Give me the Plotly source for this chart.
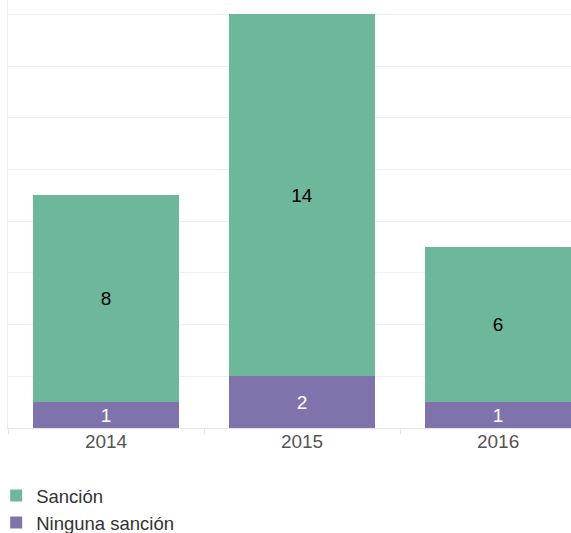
import plotly.graph_objects as go

years = ["2014", "2015", "2016"]
ninguna = [1, 2, 1]
sancion = [8, 14, 6]

green = "#6db89b"
purple = "#8073ab"
font_family = "Arial, 'Liberation Sans', sans-serif"

fig = go.Figure()
fig.add_trace(go.Bar(
    x=years, y=ninguna, name="Ninguna sanción",
    marker=dict(color=purple, line=dict(width=0)),
    text=ninguna, textposition="inside", insidetextanchor="middle", textangle=0,
    textfont=dict(color="white", size=19, family=font_family),
    constraintext="none",
))
fig.add_trace(go.Bar(
    x=years, y=sancion, name="Sanción",
    marker=dict(color=green, line=dict(width=0)),
    text=sancion, textposition="inside", insidetextanchor="middle", textangle=0,
    textfont=dict(color="black", size=19, family=font_family),
    constraintext="none",
))

fig.update_layout(
    width=571, height=533,
    barmode="stack", bargap=0.255,
    margin=dict(l=8, r=0, t=0, b=105, autoexpand=False),
    plot_bgcolor="white", paper_bgcolor="white",
    font=dict(family=font_family, size=19, color="#333333"),
    showlegend=True,
    legend=dict(
        orientation="v", x=-0.021, xanchor="left",
        y=-0.2664, yanchor="bottom",
        traceorder="reversed", font=dict(size=18.5, color="#333333"),
        bgcolor="rgba(0,0,0,0)", tracegroupgap=0,
    ),
    xaxis=dict(
        type="category", range=[-0.5, 2.372],
        showline=True, linecolor="#e6e6e6", linewidth=1,
        ticks="outside", tickson="boundaries", ticklen=5, tickcolor="#e6e6e6",
        ticklabelstandoff=-4,
        tickfont=dict(size=19, color="#555555"),
        showgrid=False, fixedrange=True,
    ),
    yaxis=dict(
        range=[0, 16.56], dtick=2, showticklabels=False,
        showgrid=True, gridcolor="#f0f0f0", gridwidth=1,
        showline=True, linecolor="#eeeeee", linewidth=1,
        zeroline=False, ticks="",
    ),
)

fig.write_html("out.html")
